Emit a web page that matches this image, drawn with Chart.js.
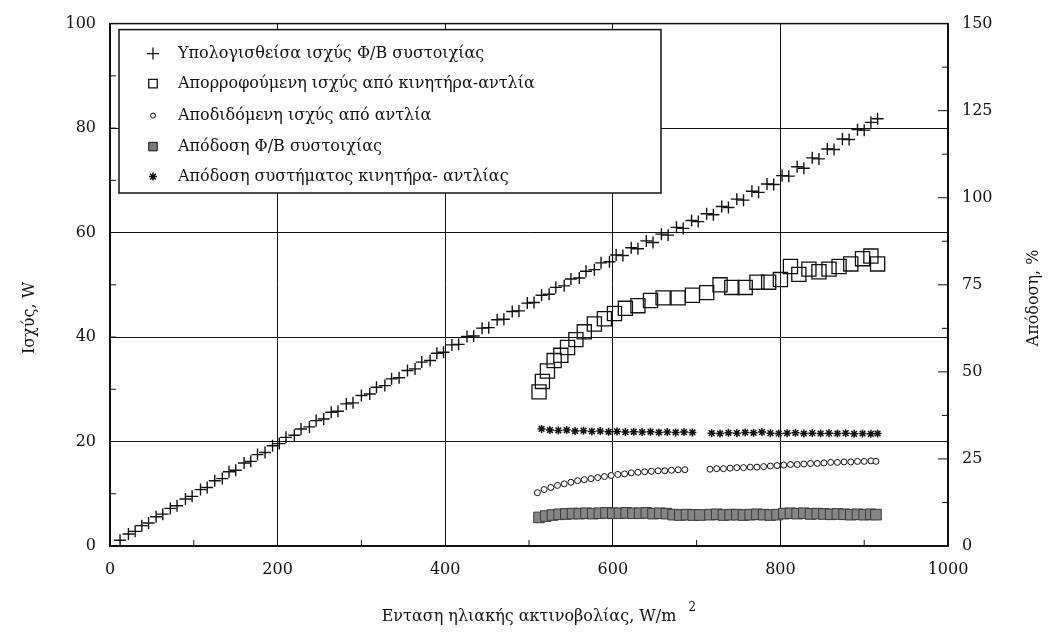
<!DOCTYPE html>
<html>
<head>
<meta charset="utf-8">
<script src="https://cdn.jsdelivr.net/npm/chart.js@4.4.1/dist/chart.umd.min.js"></script>
<style>
  html, body { margin: 0; padding: 0; background: #fff; }
  #wrap { width: 1060px; height: 638px; }
</style>
</head>
<body>
<div id="wrap"><canvas id="c" width="1060" height="638"></canvas></div>
<script>
// Computed PV array power (W) vs irradiance (W/m²)
const pvIrradiance = [12, 22, 30, 38, 46, 55, 63, 72, 80, 90, 98, 108, 116, 125, 134, 142, 150, 160, 168, 176,
  185, 194, 202, 210, 220, 228, 238, 246, 255, 264, 272, 282, 290, 300, 310, 318, 328, 336, 345, 355,
  364, 372, 382, 390, 398, 408, 416, 426, 434, 444, 452, 462, 470, 480, 488, 498, 506, 515, 524, 532,
  542, 550, 560, 568, 578, 586, 596, 604, 612, 622, 630, 640, 648, 658, 666, 676, 684, 694, 702, 712,
  720, 730, 738, 748, 756, 766, 774, 784, 792, 802, 810, 820, 828, 838, 846, 856, 864, 874, 882, 892,
  900, 908, 916];
const pvPower = [1.1, 2.3, 2.8, 3.9, 4.4, 5.6, 6.1, 7.2, 7.7, 9.0, 9.5, 10.8, 11.2, 12.5, 12.9, 14.2, 14.5, 15.9, 16.2, 17.5,
  17.9, 19.2, 19.6, 20.8, 21.2, 22.4, 22.8, 24.0, 24.3, 25.6, 25.8, 27.2, 27.4, 28.8, 29.1, 30.4, 30.7, 32.0, 32.2, 33.6,
  33.9, 35.2, 35.5, 36.9, 37.1, 38.5, 38.6, 40.1, 40.2, 41.7, 41.8, 43.3, 43.4, 44.9, 45.0, 46.5, 46.6, 48.0, 48.2, 49.5,
  49.8, 51.1, 51.3, 52.6, 52.9, 54.2, 54.4, 55.7, 55.6, 57.1, 56.9, 58.4, 58.1, 59.7, 59.5, 61.0, 60.8, 62.3, 62.1, 63.6,
  63.4, 65.0, 64.8, 66.4, 66.2, 67.9, 67.7, 69.3, 69.2, 70.9, 70.8, 72.6, 72.3, 74.3, 74.1, 76.0, 75.9, 77.9, 77.8, 79.7,
  79.6, 81.1, 81.8];

// Power absorbed by the motor-pump unit (W)
const pumpInIrradiance = [512, 516, 522, 530, 538, 546, 556, 566, 578, 590, 602, 615, 630, 645, 660, 678, 695, 712, 728, 742,
  758, 772, 786, 800, 812, 822, 834, 846, 858, 870, 884, 898, 908, 916];
const pumpInPower = [29.5, 31.5, 33.5, 35.5, 36.5, 38.0, 39.5, 41.0, 42.5, 43.5, 44.5, 45.5, 46.0, 47.0, 47.5, 47.5, 48.0, 48.5, 50.0, 49.5,
  49.5, 50.5, 50.5, 51.0, 53.5, 52.0, 53.0, 52.5, 53.0, 53.5, 54.0, 55.0, 55.5, 54.0];

// Hydraulic power delivered by the pump (W)
const pumpOutIrradiance = [510, 518, 526, 534, 542, 550, 558, 566, 574, 582, 590, 598, 606, 614, 622, 630, 638, 646, 654, 662,
  670, 678, 686, 716, 724, 732, 740, 748, 756, 764, 772, 780, 788, 796, 804, 812, 820, 828, 836, 844,
  852, 860, 868, 876, 884, 892, 900, 908, 914];
const pumpOutPower = [10.2, 10.8, 11.2, 11.6, 11.9, 12.2, 12.5, 12.7, 12.9, 13.1, 13.3, 13.5, 13.7, 13.8, 14.0, 14.1, 14.2, 14.3, 14.4, 14.4,
  14.5, 14.6, 14.6, 14.7, 14.8, 14.8, 14.9, 15.0, 15.0, 15.1, 15.1, 15.2, 15.3, 15.4, 15.5, 15.6, 15.6, 15.7, 15.8, 15.8,
  15.9, 16.0, 16.0, 16.1, 16.1, 16.2, 16.2, 16.3, 16.2];

// PV array efficiency (%)
const pvEffIrradiance = [512, 520, 528, 536, 544, 552, 560, 568, 576, 584, 592, 600, 608, 616, 624, 632, 640, 648, 656, 664,
  672, 680, 688, 696, 704, 716, 724, 732, 740, 748, 756, 764, 772, 780, 788, 796, 804, 812, 820, 828,
  836, 844, 852, 860, 868, 876, 884, 892, 900, 908, 914];
const pvEfficiency = [8.2, 8.6, 8.9, 9.1, 9.2, 9.3, 9.3, 9.4, 9.3, 9.4, 9.5, 9.4, 9.4, 9.5, 9.4, 9.4, 9.5, 9.3, 9.4, 9.3,
  9.0, 8.9, 9.0, 8.9, 8.9, 9.0, 9.1, 8.9, 9.0, 9.0, 8.9, 9.0, 9.1, 9.0, 8.9, 9.0, 9.3, 9.4, 9.3, 9.4,
  9.2, 9.3, 9.2, 9.1, 9.2, 9.1, 9.0, 9.1, 9.0, 9.1, 9.0];

// Motor-pump system efficiency (%)
const sysEffIrradiance = [515, 525, 535, 545, 555, 565, 575, 585, 595, 605, 615, 625, 635, 645, 655, 665, 675, 685, 695,
  718, 728, 738, 748, 758, 768, 778, 788, 798, 808, 818, 828, 838, 848, 858, 868, 878, 888, 898, 908, 916];
const sysEfficiency = [33.6, 33.3, 33.2, 33.3, 33.0, 33.1, 32.9, 33.0, 32.8, 32.9, 32.7, 32.8, 32.7, 32.8, 32.6, 32.7, 32.6, 32.7, 32.6,
  32.4, 32.3, 32.5, 32.4, 32.6, 32.5, 32.7, 32.4, 32.3, 32.4, 32.5, 32.3, 32.4, 32.3, 32.4, 32.3, 32.4, 32.2, 32.3, 32.2, 32.3];

const seriesLabels = [
  'Υπολογισθείσα ισχύς Φ/Β συστοιχίας',
  'Απορροφούμενη ισχύς από κινητήρα-αντλία',
  'Αποδιδόμενη ισχύς από αντλία',
  'Απόδοση Φ/Β συστοιχίας',
  'Απόδοση συστήματος κινητήρα- αντλίας'
];

const xTickValues = [0, 200, 400, 600, 800, 1000];
const powerTickValues = [0, 20, 40, 60, 80, 100];
const efficiencyTickValues = [0, 25, 50, 75, 100, 125, 150];

const xTitle = 'Ενταση ηλιακής ακτινοβολίας, W/m';
const xTitleSup = '2';
const powerTitle = 'Ισχύς, W';
const efficiencyTitle = 'Απόδοση, %';

const FONT = '"DejaVu Serif", "Liberation Serif", serif';
const INK = '#111';

function pairs(xs, ys) {
  return xs.map((x, i) => ({ x: x, y: ys[i] }));
}

// Legend drawn inside the plot frame (white box with a border)
const insideLegend = {
  id: 'insideLegend',
  afterDatasetsDraw(chart) {
    const ctx = chart.ctx;
    const ca = chart.chartArea;
    const left = ca.left + 9, top = ca.top + 6;
    const right = 661, bottom = 193;
    ctx.save();
    ctx.fillStyle = '#fff';
    ctx.fillRect(left, top, right - left, bottom - top);
    ctx.strokeStyle = INK;
    ctx.lineWidth = 1.5;
    ctx.strokeRect(left, top, right - left, bottom - top);
    const rowY = [30, 60, 92, 123, 153];
    const symbols = [
      { pointStyle: 'cross', radius: 6, borderWidth: 1.3, fill: INK },
      { pointStyle: 'rect', radius: 6, borderWidth: 1.3, fill: '#fff' },
      { pointStyle: 'circle', radius: 2.5, borderWidth: 1, fill: '#fff' },
      { pointStyle: 'rect', radius: 6, borderWidth: 1, fill: '#7a7a7a' },
      { pointStyle: 'star', radius: 4, borderWidth: 1.5, fill: INK }
    ];
    ctx.font = '16px ' + FONT;
    ctx.textBaseline = 'middle';
    ctx.textAlign = 'left';
    seriesLabels.forEach((label, i) => {
      const y = ca.top + rowY[i];
      const s = symbols[i];
      ctx.strokeStyle = INK;
      ctx.fillStyle = s.fill;
      ctx.lineWidth = s.borderWidth;
      Chart.helpers.drawPoint(ctx, { pointStyle: s.pointStyle, radius: s.radius, rotation: 0, borderWidth: s.borderWidth }, 153, y);
      ctx.fillStyle = INK;
      ctx.fillText(label, 178, y);
    });
    ctx.restore();
  }
};

// Plot frame, inward minor ticks and axis titles
const frameAndTitles = {
  id: 'frameAndTitles',
  afterDraw(chart) {
    const ctx = chart.ctx;
    const ca = chart.chartArea;
    const sx = chart.scales.x, sy = chart.scales.y, sr = chart.scales.y1;
    ctx.save();
    ctx.strokeStyle = INK;
    ctx.lineWidth = 1.5;
    ctx.strokeRect(ca.left, ca.top, ca.right - ca.left, ca.bottom - ca.top);

    ctx.lineWidth = 1;
    ctx.beginPath();
    for (let v = 10; v < 100; v += 10) {
      const y = sy.getPixelForValue(v);
      ctx.moveTo(ca.left, y); ctx.lineTo(ca.left + 6, y);
    }
    for (let v = 12.5; v < 150; v += 25) {
      const y = sr.getPixelForValue(v);
      ctx.moveTo(ca.right, y); ctx.lineTo(ca.right - 6, y);
    }
    for (let v = 25; v < 150; v += 25) {
      const y = sr.getPixelForValue(v);
      ctx.moveTo(ca.right, y); ctx.lineTo(ca.right - 10, y);
    }
    for (let v = 100; v < 1000; v += 200) {
      const x = sx.getPixelForValue(v);
      ctx.moveTo(x, ca.bottom); ctx.lineTo(x, ca.bottom - 6);
    }
    ctx.stroke();

    ctx.fillStyle = INK;
    ctx.font = '16px ' + FONT;
    ctx.textBaseline = 'middle';
    ctx.textAlign = 'center';
    const cx = (ca.left + ca.right) / 2;
    ctx.fillText(xTitle, cx, 617);
    const w = ctx.measureText(xTitle).width;
    ctx.font = '12px ' + FONT;
    ctx.fillText(xTitleSup, cx + w / 2 + 16, 608);

    ctx.font = '16px ' + FONT;
    ctx.translate(30, 318);
    ctx.rotate(-Math.PI / 2);
    ctx.fillText(powerTitle, 0, 0);
    ctx.restore();

    ctx.save();
    ctx.fillStyle = INK;
    ctx.font = '16px ' + FONT;
    ctx.textBaseline = 'middle';
    ctx.textAlign = 'center';
    ctx.translate(1034, 298);
    ctx.rotate(-Math.PI / 2);
    ctx.fillText(efficiencyTitle, 0, 0);
    ctx.restore();
  }
};

const tickFont = { family: FONT, size: 16 };
const plainNumber = (v) => String(v);

new Chart(document.getElementById('c'), {
  type: 'scatter',
  data: {
    datasets: [
      {
        label: seriesLabels[3],
        data: pairs(pvEffIrradiance, pvEfficiency),
        yAxisID: 'y1',
        pointStyle: 'rect',
        pointRadius: 7.5,
        backgroundColor: '#858585',
        borderColor: '#3a3a3a',
        borderWidth: 1
      },
      {
        label: seriesLabels[4],
        data: pairs(sysEffIrradiance, sysEfficiency),
        yAxisID: 'y1',
        pointStyle: 'star',
        pointRadius: 4,
        backgroundColor: INK,
        borderColor: INK,
        borderWidth: 1.5
      },
      {
        label: seriesLabels[2],
        data: pairs(pumpOutIrradiance, pumpOutPower),
        yAxisID: 'y',
        pointStyle: 'circle',
        pointRadius: 3,
        backgroundColor: '#fff',
        borderColor: INK,
        borderWidth: 1
      },
      {
        label: seriesLabels[1],
        data: pairs(pumpInIrradiance, pumpInPower),
        yAxisID: 'y',
        pointStyle: 'rect',
        pointRadius: 10,
        backgroundColor: 'rgba(255,255,255,0)',
        borderColor: INK,
        borderWidth: 1.3
      },
      {
        label: seriesLabels[0],
        data: pairs(pvIrradiance, pvPower),
        yAxisID: 'y',
        pointStyle: 'cross',
        pointRadius: 6,
        borderColor: INK,
        borderWidth: 1.4
      }
    ]
  },
  options: {
    responsive: false,
    animation: false,
    events: [],
    layout: { padding: { top: 20, left: 0, right: 0, bottom: 0 } },
    plugins: {
      legend: { display: false },
      tooltip: { enabled: false }
    },
    scales: {
      x: {
        type: 'linear',
        min: 0, max: 1000,
        afterBuildTicks: (s) => { s.ticks = xTickValues.map(v => ({ value: v })); },
        afterFit: (s) => { s.height = 92; },
        ticks: { font: tickFont, color: INK, padding: 14, callback: plainNumber },
        grid: { color: INK, lineWidth: 1, drawTicks: false },
        border: { color: INK, width: 1.5 }
      },
      y: {
        type: 'linear',
        position: 'left',
        min: 0, max: 100,
        afterBuildTicks: (s) => { s.ticks = powerTickValues.map(v => ({ value: v })); },
        afterFit: (s) => { s.width = 110; },
        ticks: { font: tickFont, color: INK, padding: 14, callback: plainNumber },
        grid: { color: INK, lineWidth: 1, drawTicks: false },
        border: { color: INK, width: 1.5 }
      },
      y1: {
        type: 'linear',
        position: 'right',
        min: 0, max: 150,
        afterBuildTicks: (s) => { s.ticks = efficiencyTickValues.map(v => ({ value: v })); },
        afterFit: (s) => { s.width = 112; },
        ticks: { font: tickFont, color: INK, padding: 14, callback: plainNumber },
        grid: { drawOnChartArea: false, drawTicks: false },
        border: { color: INK, width: 1.5 }
      }
    }
  },
  plugins: [insideLegend, frameAndTitles]
});
</script>
</body>
</html>
